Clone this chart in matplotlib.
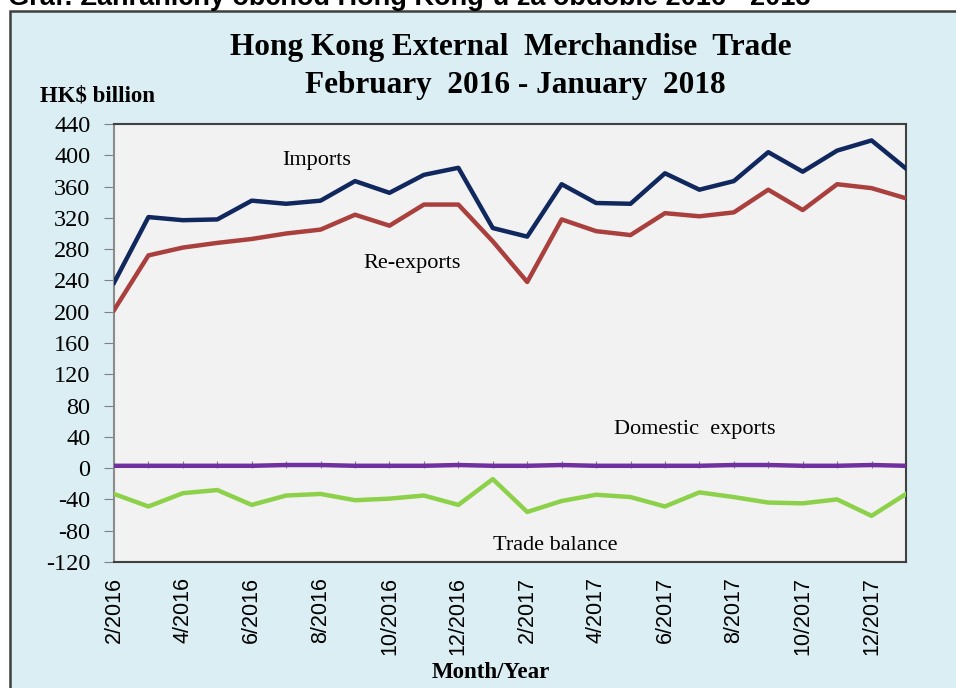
import matplotlib
matplotlib.use("Agg")
import matplotlib.pyplot as plt
from matplotlib.patches import Rectangle
import numpy as np

months = ["2/2016", "3/2016", "4/2016", "5/2016", "6/2016", "7/2016", "8/2016", "9/2016",
          "10/2016", "11/2016", "12/2016", "1/2017", "2/2017", "3/2017", "4/2017", "5/2017",
          "6/2017", "7/2017", "8/2017", "9/2017", "10/2017", "11/2017", "12/2017", "1/2018"]
imports = [237, 321, 317, 318, 342, 338, 342, 367, 352, 375, 384, 307,
           296, 363, 339, 338, 377, 356, 367, 404, 379, 406, 419, 383]
re_exports = [202, 272, 282, 288, 293, 300, 305, 324, 310, 337, 337, 290,
              238, 318, 303, 298, 326, 322, 327, 356, 330, 363, 358, 345]
domestic_exports = [3, 3, 3, 3, 3, 4, 4, 3, 3, 3, 4, 3,
                    3, 4, 3, 3, 3, 3, 4, 4, 3, 3, 4, 3]
trade_balance = [-33, -49, -32, -28, -47, -35, -33, -41, -39, -35, -47, -14,
                 -56, -42, -34, -37, -49, -31, -37, -44, -45, -40, -61, -33]
y_ticks = list(range(-120, 441, 40))

serif = "Liberation Serif"
sans = "Liberation Sans"

fig = plt.figure(figsize=(9.56, 6.88), dpi=100, facecolor="white")
# chart frame
frame = Rectangle((10/956, -0.1), 1.2, 1 - 11/688 + 0.1, transform=fig.transFigure,
                  facecolor="#DAEEF3", edgecolor="#3F3F3F", lw=1.8, zorder=-5)
fig.add_artist(frame)
fig.text(8/956, 1 - 5/688, "Graf: Zahraničný obchod Hong Kong-u za obdobie 2016 - 2018",
         fontsize=19.5, fontweight="bold", family=sans, va="baseline", ha="left", zorder=-4)

ax = fig.add_axes([114/956, 1 - 562/688, (906-114)/956, (562-124)/688])
ax.set_zorder(2)
ax.set_facecolor("#F2F2F2")
x = np.arange(len(months))

ax.plot(x, imports, color="#10285E", lw=3.2, zorder=3)
ax.plot(x, re_exports, color="#A9403D", lw=3.2, zorder=3)
ax.plot(x, domestic_exports, color="#7030A0", lw=3.2, zorder=3)
ax.plot(x, trade_balance, color="#8DD14B", lw=3.2, zorder=3)

ax.set_xlim(0, len(months) - 1)
ax.set_ylim(-120, 440)
ax.set_yticks(y_ticks)
ax.set_yticklabels([str(v) for v in y_ticks], family=serif, fontsize=17.5)
ax.tick_params(axis="y", direction="out", length=7, color="#808080", pad=10)

ax.set_xticks(x[::2])
ax.set_xticklabels(months[::2], rotation=90, family=sans, fontsize=15.5)
ax.tick_params(axis="x", length=0, pad=11)

ax.spines["left"].set_color("#8C8C8C")
ax.spines["left"].set_linewidth(1.5)
for s in ["top", "right", "bottom"]:
    ax.spines[s].set_color("#404040")
    ax.spines[s].set_linewidth(1.5)

# category ticks on the zero line
zero_frac = (0 - (-120)) / (440 - (-120))
sec = ax.secondary_xaxis(zero_frac)
sec.set_xticks(x)
sec.set_xticklabels([])
sec.tick_params(axis="x", direction="in", length=5, color="#808080")
sec.spines["bottom"].set_visible(False)

# series labels
ax.text(4.9, 393, "Imports", family=serif, fontsize=16, ha="left", va="center")
ax.text(7.23, 262, "Re-exports", family=serif, fontsize=16, ha="left", va="center")
ax.text(14.52, 49, "Domestic  exports", family=serif, fontsize=16, ha="left", va="center")
ax.text(11.0, -99, "Trade balance", family=serif, fontsize=16, ha="left", va="center")

fig.text(511/956, 1 - 47/688, "Hong Kong External  Merchandise  Trade", family=serif,
         fontsize=22.5, fontweight="bold", ha="center", va="center")
fig.text(515/956, 1 - 85/688, "February  2016 - January  2018", family=serif,
         fontsize=22.5, fontweight="bold", ha="center", va="center")
fig.text(40/956, 1 - 96/688, "HK$ billion", family=serif, fontsize=16.5,
         fontweight="bold", ha="left", va="center")
fig.text(491/956, 1 - 672/688, "Month/Year", family=serif, fontsize=16.5,
         fontweight="bold", ha="center", va="center")

fig.savefig("out.png", dpi=100, facecolor="white")
